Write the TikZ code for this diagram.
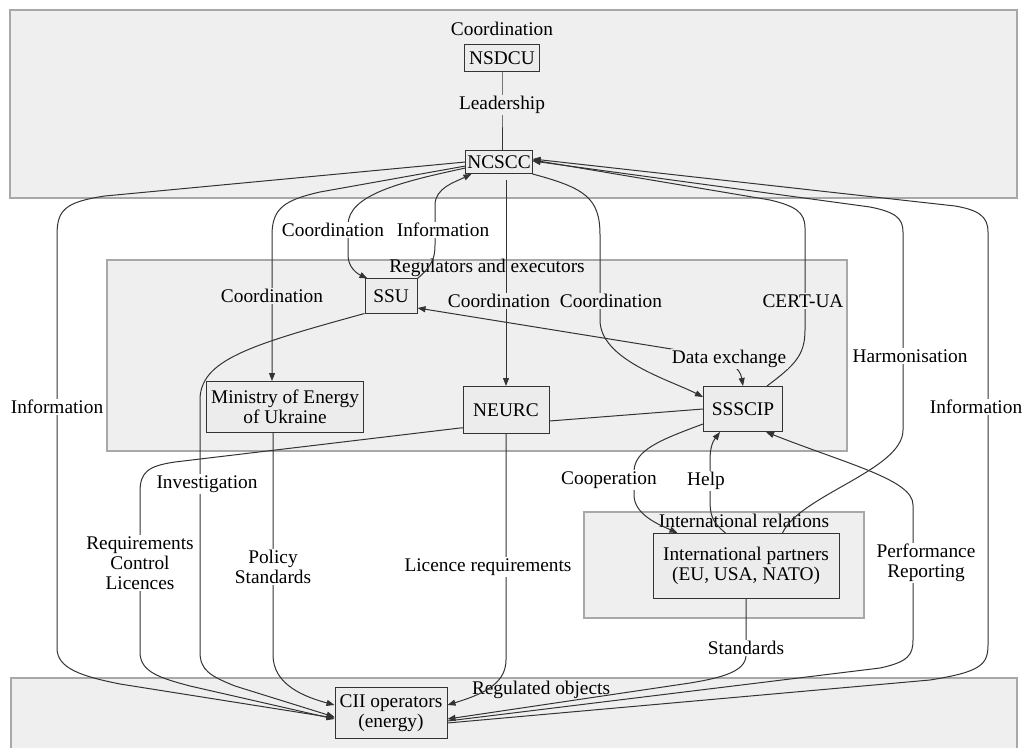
\documentclass[tikz,border=0pt]{standalone}
\usepackage{fontspec}
\setmainfont{Liberation Serif}
\usepackage{tikz}
\usetikzlibrary{positioning, arrows.meta, calc}
\definecolor{clusterfill}{HTML}{EFEFEF}
\definecolor{clusterline}{HTML}{A8A8A8}
\definecolor{nodefill}{HTML}{ECECEC}
\definecolor{edgeline}{HTML}{333333}
\pgfdeclarelayer{back}
\pgfdeclarelayer{edges}
\pgfsetlayers{back,edges,main}

\begin{document}
\begin{tikzpicture}[x=0.75pt, y=-0.75pt,
	font=\fontsize{14.5}{15}\selectfont,
	box/.style={draw=edgeline, fill=nodefill, line width=0.75pt, inner sep=1pt, align=center},
	cluster/.style={draw=clusterline, fill=clusterfill, line width=0.9pt},
	conn/.style={draw=edgeline, line width=0.75pt},
	arr/.style={conn, -{Triangle[length=6pt,width=4.5pt]}},
	lbl/.style={fill=white, inner sep=1pt, align=center},
	lblg/.style={lbl, fill=clusterfill}]
	\useasboundingbox (0,0) rectangle (1023,748);
	
	% groups
	\begin{pgfonlayer}{back}
		\fill[white] (0,0) rectangle (1023,748);
		\draw[cluster] (10,10) rectangle (1017,198);
		\node[inner sep=0] (gcoord) at (502,29) {Coordination};
		\draw[cluster] (107,260) rectangle (847,451);
		\node[inner sep=0] (greg) at (487,268) {Regulators and executors};
		\draw[cluster] (584,512) rectangle (864,618);
		\node[inner sep=0] (gint) at (744,521) {International relations};
		\draw[cluster] (11,678) rectangle (1017,760);
		\node[inner sep=0] (gobj) at (541,690) {Regulated objects};
	\end{pgfonlayer}
	
	% nodes
	\node[box, minimum width=56pt, minimum height=20pt] (nsdcu) at (502,58) {NSDCU};
	\node[box, minimum width=49.5pt, minimum height=17.25pt] (ncscc) at (499,162) {NCSCC};
	\node[box, minimum width=39pt, minimum height=25.5pt] (ssu) at (391,296) {SSU};
	\node[box, minimum width=117.75pt, minimum height=38.25pt] (ministry) at (285,407) {Ministry of Energy\\of Ukraine};
	\node[box, minimum width=64.5pt, minimum height=35.25pt] (neurc) at (506,410) {NEURC};
	\node[box, minimum width=59.25pt, minimum height=33.75pt] (ssscip) at (743,409) {SSSCIP};
	\node[box, minimum width=139.5pt, minimum height=48.75pt] (partners) at (746,566) {International partners\\(EU, USA, NATO)};
	\node[box, minimum width=84pt, minimum height=38.25pt] (cii) at (391,713) {CII operators\\(energy)};
	
	% connectors
	\begin{pgfonlayer}{edges}
		\draw[conn] (nsdcu.south) -- (502,105) node[lblg] {Leadership} -- (nsdcu.south |- ncscc.north);
		
		\draw[arr] (ncscc.west) -- (105,196) .. controls (65,202) and (57,210) .. (57,235)
			-- (57,407) node[lbl] {Information} -- (57,648) .. controls (57,668) and (80,676) .. (120,684) -- ($(cii.west)+(0,5)$);
		\draw[arr] ($(ncscc.west)+(0,4)$) -- (320,192) .. controls (285,200) and (272,208) .. (272,235)
			-- (272,296) node[lblg] {Coordination} -- ($(ministry.north)+(-13,0)$);
		\draw[arr] ($(ncscc.west)+(0,6)$) .. controls (400,182) and (348,195) .. (348,225) -- (348,255)
			.. controls (348,268) and (358,274) .. ($(ssu.north west)+(3,0)$) node[lbl] at (333,230) {Coordination};
		\draw[arr] (ssu.north east) .. controls (432,266) and (435,258) .. (435,245) -- (435,205)
			.. controls (435,188) and (455,182) .. ($(ncscc.south west)+(6,0)$) node[lbl] at (443,230) {Information};
		\draw[arr] ($(ncscc.south -| neurc.north)+(0,6)$) -- (neurc.north) node[lblg] at (499,301) {Coordination};
		\draw[arr] (ncscc.south east) .. controls (585,188) and (600,198) .. (600,235) -- (600,320)
			.. controls (600,360) and (670,380) .. ($(ssscip.north west)+(0,11)$) node[lblg] at (611,301) {Coordination};
		\draw[arr] ($(ssscip.north east)+(-16,0)$) .. controls (795,365) and (805,355) .. (805,330) -- (805,228)
			.. controls (805,212) and (795,206) .. (770,200) -- ($(ncscc.east)+(0,-2)$) node[lblg] at (803,301) {CERT-UA};
		\draw[arr] ($(partners.north west)+(130,0)$) .. controls (800,495) and (903,470) .. (903,430) -- (903,232)
			.. controls (903,218) and (895,212) .. (870,207) -- ($(ncscc.east)+(0,-1)$) node[lbl] at (910,356) {Harmonisation};
		\draw[arr] ($(cii.east)+(0,10)$) -- (930,680) .. controls (980,672) and (988,665) .. (988,645) -- (988,232)
			.. controls (988,216) and (978,210) .. (955,206) -- ($(ncscc.east)+(0,-3)$) node[lbl] at (976,407) {Information};
		
		\draw[conn, {Triangle[length=6pt,width=4.5pt]}-{Triangle[length=6pt,width=4.5pt]}] ($(ssu.east)+(0,12)$) -- (690,352)
			.. controls (730,358) and (740,368) .. (ssscip.north) node[lblg] at (729,359) {Data exchange};
		\draw[arr] (ssscip.west) -- (460,428) -- (175,462) .. controls (148,466) and (140,472) .. (140,492)
			-- (140,563) node[lbl] {Requirements\\Control\\Licences} -- (140,652) .. controls (140,672) and (160,678) .. (190,686) -- ($(cii.west)+(0,6)$);
		\draw[arr] (ssu.south west) .. controls (250,345) and (200,360) .. (200,400) -- (200,652)
			.. controls (200,670) and (210,676) .. (235,686) -- ($(cii.west)+(0,4)$) node[lbl] at (207,484) {Investigation};
		\draw[arr] ($(ministry.south)+(-12,0)$) -- (273,567) node[lbl] {Policy\\Standards} -- (273,655)
			.. controls (273,685) and (305,697) .. ($(cii.west)+(0,-8)$);
		\draw[arr] (neurc.south) -- (506,660) .. controls (506,685) and (480,695) .. ($(cii.east)+(0,-8)$)
			node[lbl] at (488,567) {Licence requirements};
		
		\draw[arr] ($(ssscip.south west)+(0,-8)$) .. controls (660,440) and (634,450) .. (634,472) -- (634,495)
			.. controls (634,515) and (660,525) .. ($(partners.north west)+(25,0)$) node[lbl] at (609,480) {Cooperation};
		\draw[arr] ($(partners.north west)+(73,0)$) .. controls (712,522) and (710,515) .. (710,500) -- (710,460)
			.. controls (710,445) and (714,440) .. ($(ssscip.south west)+(17,0)$) node[lbl] at (706,481) {Help};
		\draw[arr] ($(cii.east)+(0,8)$) -- (880,668) .. controls (908,662) and (913,655) .. (913,640) -- (913,505)
			.. controls (913,480) and (850,465) .. ($(ssscip.south east)+(-17,0)$) node[lbl] at (926,563) {Performance\\Reporting};
		\draw[arr] (partners.south) -- (746,648) node[lbl] {Standards} -- (746,655)
			.. controls (746,672) and (720,678) .. (690,683) -- ($(cii.east)+(0,6)$);
	\end{pgfonlayer}
\end{tikzpicture}
\end{document}
